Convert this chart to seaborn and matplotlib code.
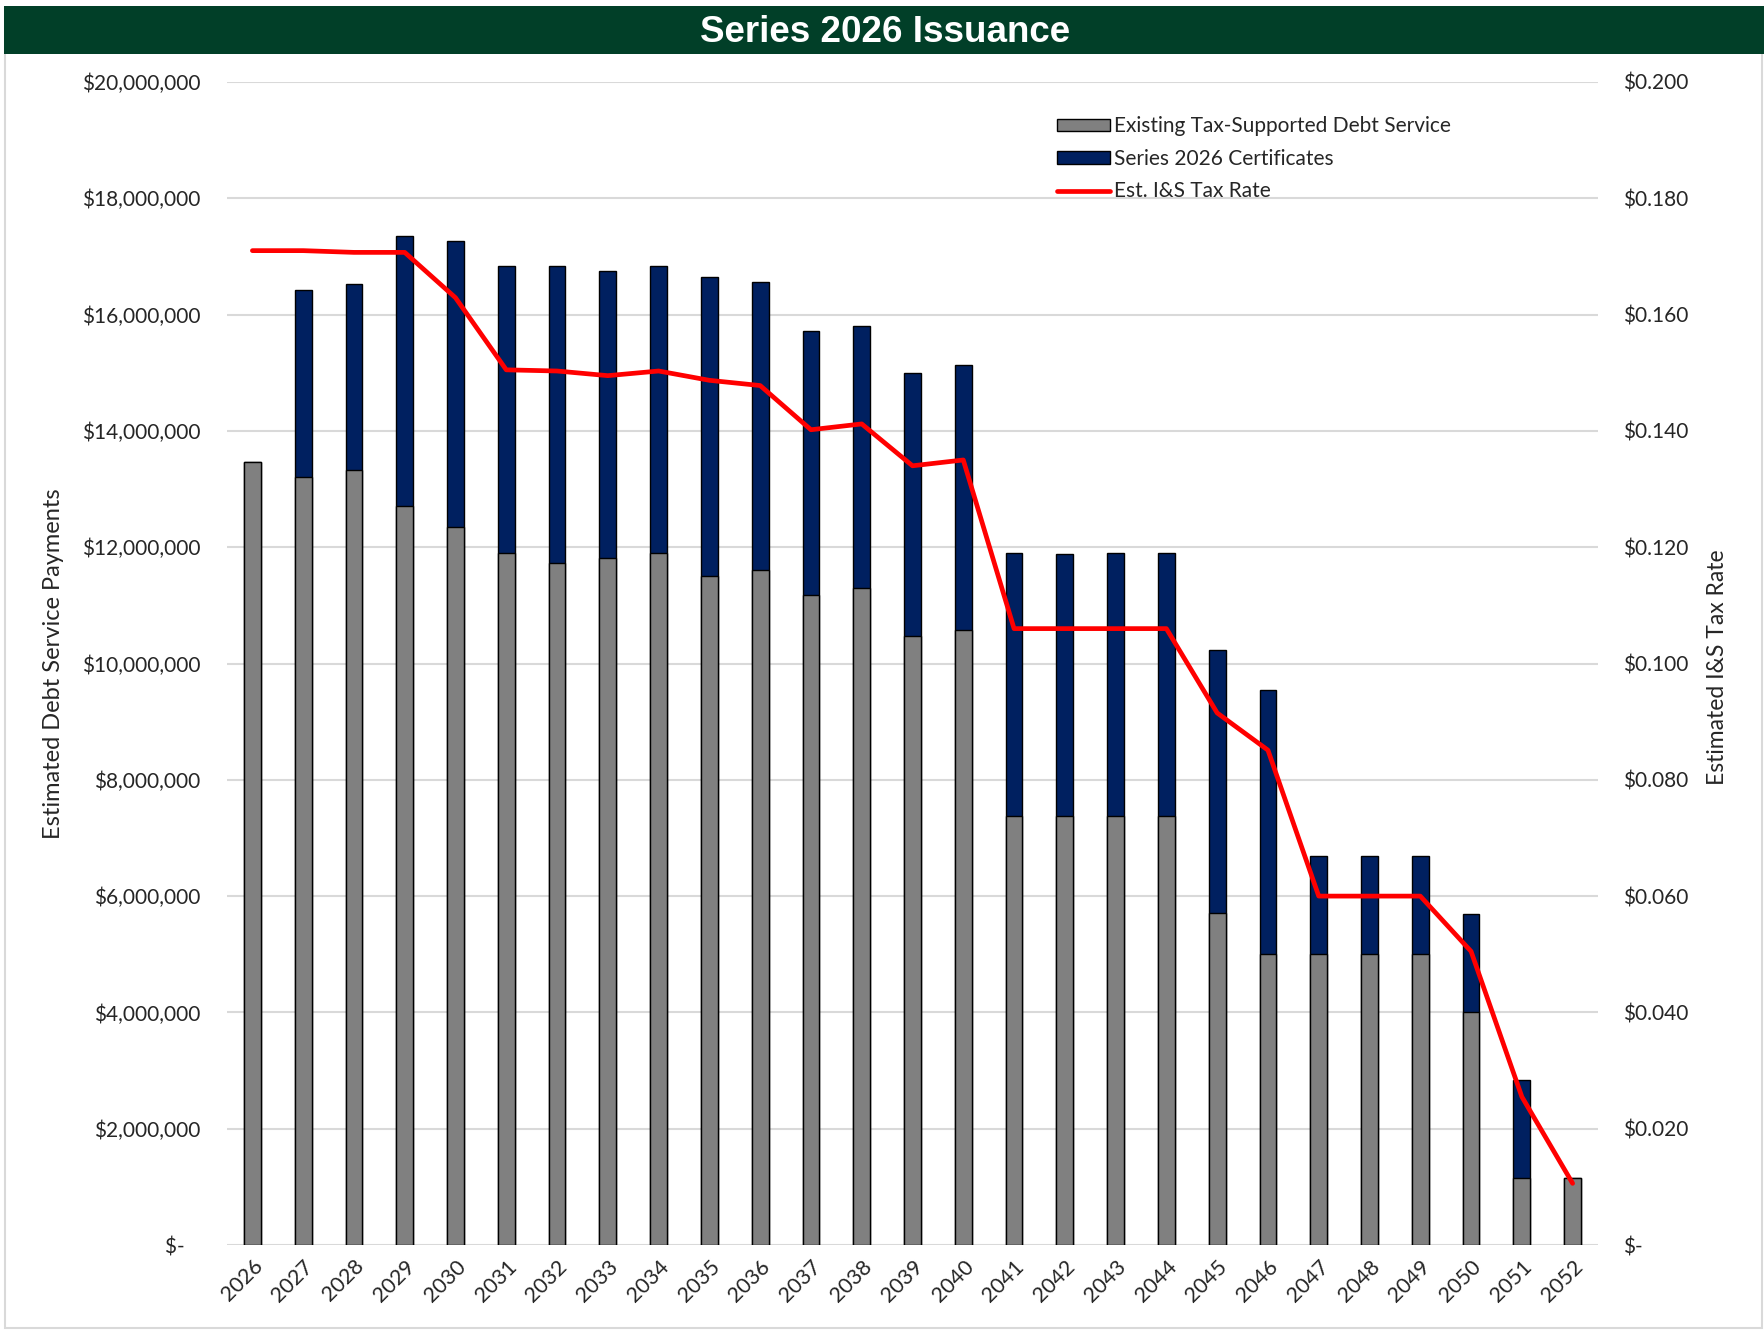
import matplotlib
matplotlib.use("Agg")
import matplotlib.pyplot as plt
import matplotlib.ticker as mticker
from matplotlib.patches import Patch, Rectangle
from matplotlib.lines import Line2D
import numpy as np
import pandas as pd
import seaborn as sns

# data
years = [str(y) for y in range(2026, 2053)]
existing = [13.46, 13.21, 13.33, 12.71, 12.34, 11.90, 11.72, 11.82, 11.90, 11.51,
            11.61, 11.18, 11.30, 10.48, 10.58, 7.37, 7.37, 7.37, 7.37, 5.71,
            5.01, 5.01, 5.01, 5.01, 4.00, 1.16, 1.16]
total = [13.46, 16.42, 16.52, 17.35, 17.27, 16.83, 16.83, 16.75, 16.83, 16.65,
         16.56, 15.71, 15.80, 14.99, 15.13, 11.90, 11.88, 11.90, 11.90, 10.23,
         9.54, 6.69, 6.69, 6.69, 5.69, 2.84, 1.16]
tax_rate = [0.1710, 0.1710, 0.1707, 0.1707, 0.1629, 0.1505, 0.1503, 0.1495, 0.1503, 0.1487,
            0.1478, 0.1402, 0.1412, 0.1340, 0.1350, 0.1060, 0.1060, 0.1060, 0.1060, 0.0915,
            0.0851, 0.0600, 0.0600, 0.0600, 0.0505, 0.0255, 0.0106]

df = pd.DataFrame({
    "year": years,
    "existing": np.array(existing) * 1e6,
    "total": np.array(total) * 1e6,
    "rate": tax_rate,
    "pos": np.arange(len(years)),
})

GRAY = "#808080"
NAVY = "#002060"
RED = "#FF0000"
GREEN = "#013F28"

sns.set_theme(style="white")
plt.rcParams["font.family"] = ["Lato", "DejaVu Sans"]

fig = plt.figure(figsize=(17.64, 13.3), dpi=100)
ax = fig.add_axes([227 / 1764, 1 - 1245 / 1330, (1598 - 227) / 1764, (1245 - 82) / 1330])

# figure frame and title band
fig.patches.append(Rectangle((5 / 1764, 2 / 1330), 1757 / 1764, 1320 / 1330,
                             transform=fig.transFigure, fill=False,
                             edgecolor="#D9D9D9", linewidth=1.5, zorder=0))
fig.patches.append(Rectangle((4 / 1764, 1 - 54 / 1330), 1760 / 1764, 48 / 1330,
                             transform=fig.transFigure, facecolor=GREEN,
                             edgecolor="none", zorder=1))
fig.text(885 / 1764, 1 - 32 / 1330, "Series 2026 Issuance", color="white",
         fontsize=26.5, fontweight="bold", family="Liberation Sans",
         ha="center", va="center")

# stacked bars: total first, existing drawn over it
sns.barplot(data=df, x="year", y="total", color=NAVY, saturation=1, width=0.33,
            edgecolor="black", linewidth=1, ax=ax, zorder=2)
sns.barplot(data=df, x="year", y="existing", color=GRAY, saturation=1, width=0.33,
            edgecolor="black", linewidth=1, ax=ax, zorder=3)

ax.set_ylim(0, 20e6)
ax.set_xlim(-0.5, len(years) - 0.5)
ax.yaxis.set_major_locator(mticker.MultipleLocator(2e6))
ax.yaxis.set_major_formatter(mticker.FuncFormatter(
    lambda v, p: "$-   " if v == 0 else f"${v:,.0f}"))
ax.grid(axis="y", color="#D9D9D9", linewidth=1.5)
ax.set_axisbelow(True)
for s in ax.spines.values():
    s.set_visible(False)
ax.tick_params(axis="y", length=0, pad=19, labelsize=15)
ax.tick_params(axis="x", length=0, pad=8, labelsize=15.5)
for lbl in ax.get_xticklabels():
    lbl.set_rotation(45)
    lbl.set_ha("right")
    lbl.set_rotation_mode("anchor")
ax.set_xlabel("")
ax.set_ylabel("")

ax2 = ax.twinx()
sns.lineplot(data=df, x="pos", y="rate", color=RED, linewidth=3.4, ax=ax2,
             solid_capstyle="round", solid_joinstyle="round", zorder=5)
ax2.set_ylim(0, 0.2)
ax2.yaxis.set_major_locator(mticker.MultipleLocator(0.02))
ax2.yaxis.set_major_formatter(mticker.FuncFormatter(
    lambda v, p: "$-" if abs(v) < 1e-9 else f"${v:.3f}"))
for s in ax2.spines.values():
    s.set_visible(False)
ax2.tick_params(axis="y", length=0, pad=18, labelsize=15)
ax2.set_ylabel("")
ax2.set_xlabel("")
ax2.grid(False)

fig.text(54 / 1764, 1 - 664 / 1330, "Estimated Debt Service Payments",
         rotation=90, ha="center", va="center", fontsize=17)
fig.text(1718 / 1764, 1 - 667 / 1330, "Estimated I&S Tax Rate",
         rotation=90, ha="center", va="center", fontsize=16.5)

handles = [
    Patch(facecolor=GRAY, edgecolor="black", linewidth=1),
    Patch(facecolor=NAVY, edgecolor="black", linewidth=1),
    Line2D([0], [0], color=RED, linewidth=3.4, solid_capstyle="round"),
]
labels = ["Existing Tax-Supported Debt Service", "Series 2026 Certificates",
          "Est. I&S Tax Rate"]
ax2.legend(handles, labels, loc="upper left",
           bbox_to_anchor=(1047 / 1764, 1 - 106 / 1330),
           bbox_transform=fig.transFigure, frameon=False, fontsize=15,
           handlelength=2.5, handleheight=0.55, handletextpad=0.2,
           labelspacing=0.6, borderpad=0)

fig.savefig("out.png", dpi=100)
